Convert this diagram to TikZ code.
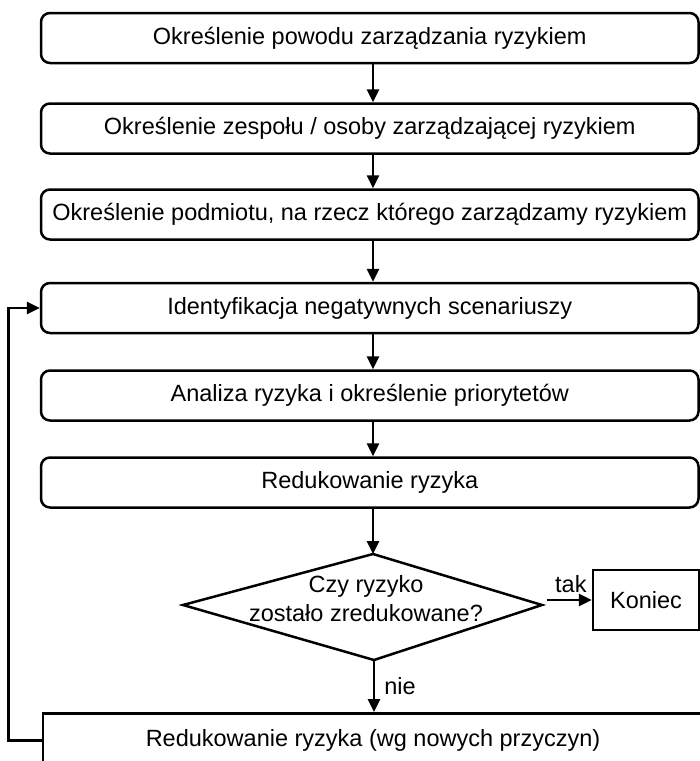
\documentclass[tikz,border=0pt]{standalone}
\usepackage{fontspec}
\setmainfont{Liberation Sans}
\usetikzlibrary{arrows.meta}
\begin{document}
\begin{tikzpicture}[x=1pt,y=-1pt,
  txt/.style={font=\fontsize{23.5}{29}\selectfont},
  box/.style={draw, line width=2.5pt, rounded corners=9pt, minimum width=657.5pt,
    minimum height=50pt, inner sep=0pt, txt},
  plainbox/.style={draw, line width=2.5pt, inner sep=0pt, txt},
  arr/.style={line width=2.7pt, -{Triangle[length=13pt,width=12pt]}},
  lbl/.style={txt, inner sep=0pt}
]
\useasboundingbox (0,0) rectangle (700,761);
\clip (0,0) rectangle (700,761);

\coordinate (ax) at (373,0);

\node[box] (b1) at (369.75,38) {Określenie powodu zarządzania ryzykiem};
\node[box] (b2) at (369.75,128.5) {Określenie zespołu / osoby zarządzającej ryzykiem};
\node[box] (b3) at (369.75,214.5) {Określenie podmiotu, na rzecz którego zarządzamy ryzykiem};
\node[box] (b4) at (369.75,308) {Identyfikacja negatywnych scenariuszy};
\node[box] (b5) at (369.75,395.5) {Analiza ryzyka i określenie priorytetów};
\node[box] (b6) at (369.75,482.5) {Redukowanie ryzyka};

% decision diamond (slightly asymmetric, as in the original)
\coordinate (dN) at (373,554);
\coordinate (dE) at (542,605);
\coordinate (dS) at (374,660);
\coordinate (dW) at (183,605);
\draw[line width=2.5pt, line join=miter] (dN) -- (dE) -- (dS) -- (dW) -- cycle;
\node[lbl, align=center] (dt) at (366,599) {Czy ryzyko\\zostało zredukowane?};

\node[plainbox, minimum width=106pt, minimum height=60pt] (k) at (646,600) {Koniec};

\node[plainbox, minimum width=660pt, minimum height=54pt, anchor=north] (b8) at (373,712)
  {Redukowanie ryzyka (wg nowych przyczyn)};

\draw[arr] (b1.south -| ax) -- (b2.north -| ax);
\draw[arr] (b2.south -| ax) -- (b3.north -| ax);
\draw[arr] (b3.south -| ax) -- (b4.north -| ax);
\draw[arr] (b4.south -| ax) -- (b5.north -| ax);
\draw[arr] (b5.south -| ax) -- (b6.north -| ax);
\draw[arr] (b6.south -| ax) -- (dN);
\draw[arr, shorten <=5pt] (dE |- k.west) -- (k.west)
  node[lbl, pos=0.58, above=6pt] (tak) {tak};
\draw[arr] (dS) -- (b8.north -| dS)
  node[lbl, midway, right=9pt] (nie) {nie};
\draw[arr] (b8.west) -- ++(-33,0) |- (b4.west);
\end{tikzpicture}
\end{document}
